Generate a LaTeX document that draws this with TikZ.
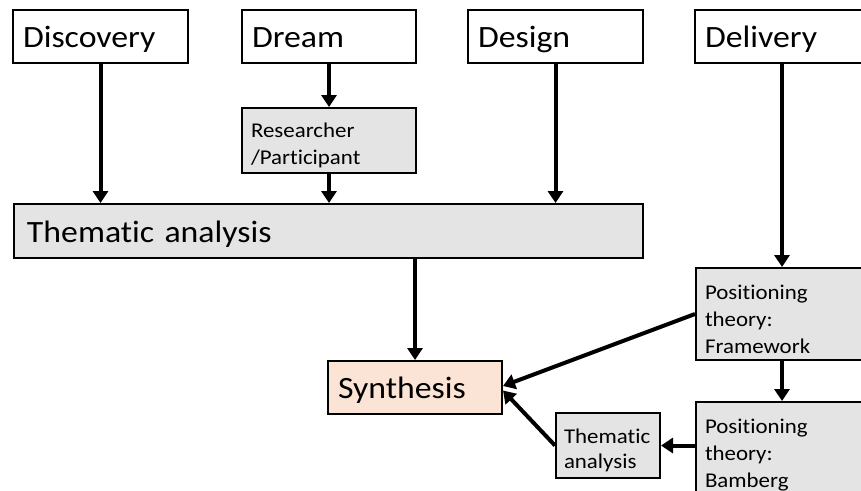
\documentclass[tikz,border=0pt]{standalone}
\usepackage{fontspec}
\setmainfont{Carlito}[Ligatures=NoCommon, FakeStretch=1.09]
\usetikzlibrary{arrows.meta}

\definecolor{boxgray}{HTML}{E4E4E4}
\definecolor{peach}{HTML}{FBE4D6}
% raises the first line of a stacked label so the block sits lower in its box
\newcommand{\firstlinestrut}{\rule{0pt}{25pt}}

\begin{document}
\begin{tikzpicture}[x=1pt,y=-1pt,
  stage/.style={draw=black, line width=2pt, anchor=north west, align=left,
    inner xsep=10pt, inner ysep=0pt, text height=26pt, text depth=4pt,
    font=\fontsize{31}{37}\selectfont},
  note/.style={draw=black, line width=2pt, anchor=north west, align=left,
    inner xsep=9pt, inner ysep=0pt, fill=boxgray, font=\fontsize{21}{27}\selectfont},
  flow/.style={line width=4pt, -{Triangle[width=15pt,length=12pt]}}]
  \useasboundingbox (0,0) rectangle (861,490);
  \clip (0,0) rectangle (861,490);

  % four phases
  \node[stage, text width=155pt, minimum height=53pt] (disc)   at (12,9)  {Discovery};
  \node[stage, text width=154pt, minimum height=53pt] (dream)  at (241,9) {Dream};
  \node[stage, text width=155pt, minimum height=53pt] (design) at (467,9) {Design};
  \node[stage, text width=156pt, minimum height=53pt] (deliv)  at (694,9) {Delivery};

  % analysis boxes
  \node[note, text width=156pt, minimum height=65pt] (resp) at (241,107) {\firstlinestrut Researcher\\/Participant};
  \node[stage, fill=boxgray, inner xsep=13pt, text width=603pt, minimum height=54pt] (them) at (13,203) {Thematic analysis};
  \node[stage, fill=peach, text width=154pt, minimum height=53pt] (synth) at (327,360) {Synthesis};
  \node[note, text width=154pt, minimum height=92pt] (pfw)  at (695,267) {\firstlinestrut Positioning\\theory:\\Framework};
  \node[note, text width=154pt, minimum height=95pt] (pbam) at (695,401) {\firstlinestrut Positioning\\theory:\\Bamberg};
  \node[note, inner xsep=8pt, text width=88pt, minimum height=65pt,
        font=\fontsize{21}{25}\selectfont] (tsm) at (555,412) {\firstlinestrut Thematic\\analysis};

  % connectors
  \draw[flow] (disc.south) -- (disc.south |- them.north);
  \draw[flow] (dream.south) -- (resp.north);
  \draw[flow] (resp.south) -- (resp.south |- them.north);
  \draw[flow] (design.south) -- (design.south |- them.north);
  \draw[flow] (deliv.south -| pfw.north) -- (pfw.north);
  \draw[flow] (synth.north |- them.south) -- (synth.north);
  \draw[flow] (pfw.south) -- (pbam.north);
  \coordinate (synthA) at ([yshift=1.5pt]synth.east);
  \coordinate (synthB) at ([yshift=-3pt]synth.east);
  \draw[flow] (pfw.west) -- (synthA);
  \draw[flow] (tsm.west) -- (synthB);
  \draw[flow] (pbam.west |- tsm.east) -- (tsm.east);
\end{tikzpicture}
\end{document}
